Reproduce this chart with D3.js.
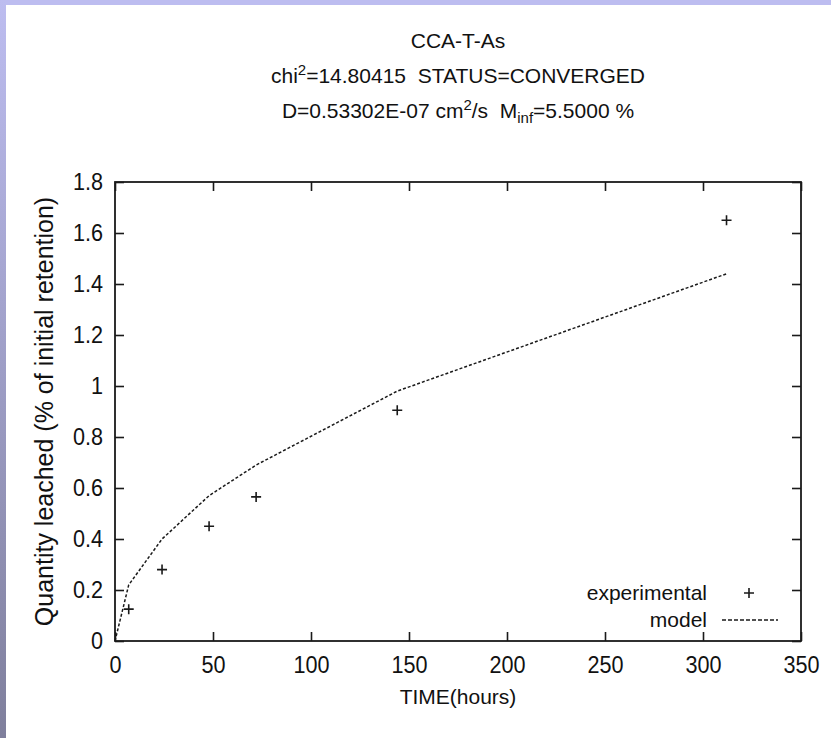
<!DOCTYPE html>
<html>
<head>
<meta charset="utf-8">
<script src="https://cdn.jsdelivr.net/npm/d3@7"></script>
<style>
  html, body { margin: 0; padding: 0; background: #fff; }
  text { font-family: "Liberation Sans", Arial, sans-serif; fill: #111; }
</style>
</head>
<body>
<svg id="chart"></svg>
<script>
// experimental leaching data (hours, % of initial retention)
const expTime = [7, 24, 48, 72, 144, 312];
const expValue = [0.125, 0.28, 0.45, 0.565, 0.905, 1.65];

// fitted diffusion model, evaluated at the same times
const modelTime = [0, 7, 24, 48, 72, 144, 312];
const modelValue = [0, 0.22, 0.40, 0.57, 0.69, 0.98, 1.44];

const xTicks = [0, 50, 100, 150, 200, 250, 300, 350];
const yTicks = [0, 0.2, 0.4, 0.6, 0.8, 1, 1.2, 1.4, 1.6, 1.8];

const width = 831;
const height = 738;
const margin = { top: 182, right: 30, bottom: 97, left: 115 };
const ink = '#1a1a1a';

const svg = d3.select('#chart')
  .attr('width', width)
  .attr('height', height);

// slide-style border bands
const defs = svg.append('defs');
const grad = defs.append('linearGradient')
  .attr('id', 'band')
  .attr('x1', 0).attr('y1', 0).attr('x2', 0).attr('y2', 1);
grad.append('stop').attr('offset', '0%').attr('stop-color', '#bdbdf0');
grad.append('stop').attr('offset', '100%').attr('stop-color', '#7f7f9c');

svg.append('rect').attr('width', width).attr('height', height).attr('fill', '#fff');
svg.append('rect').attr('x', 0).attr('y', 0).attr('width', width).attr('height', 5).attr('fill', '#bdbdf0');
svg.append('rect').attr('x', 0).attr('y', 0).attr('width', 6).attr('height', height).attr('fill', 'url(#band)');

const x = d3.scaleLinear()
  .domain([0, 350])
  .range([margin.left, width - margin.right]);

const y = d3.scaleLinear()
  .domain([0, 1.8])
  .range([height - margin.bottom, margin.top]);

const g = svg.append('g');

// titles
const cx = (x.range()[0] + x.range()[1]) / 2;
g.append('text')
  .attr('x', cx).attr('y', 48)
  .attr('text-anchor', 'middle')
  .style('font-size', '21px')
  .text('CCA-T-As');

const t2 = g.append('text')
  .attr('x', cx).attr('y', 83)
  .attr('text-anchor', 'middle')
  .style('font-size', '21px');
t2.append('tspan').text('chi');
t2.append('tspan').attr('dy', -8).style('font-size', '15px').text('2');
t2.append('tspan').attr('dy', 8).text('=14.80415\u00a0\u00a0STATUS=CONVERGED');

const t3 = g.append('text')
  .attr('x', cx).attr('y', 118)
  .attr('text-anchor', 'middle')
  .style('font-size', '21px');
t3.append('tspan').text('D=0.53302E-07 cm');
t3.append('tspan').attr('dy', -8).style('font-size', '15px').text('2');
t3.append('tspan').attr('dy', 8).text('/s\u00a0\u00a0M');
t3.append('tspan').attr('dy', 5).style('font-size', '15px').text('inf');
t3.append('tspan').attr('dy', -5).text('=5.5000 %');

// axes with inward ticks on all four sides
const tickLen = 9;
const xPad = 15;
const yPad = 12;

const xAxis = g.append('g')
  .attr('transform', `translate(0,${y(0)})`)
  .call(d3.axisBottom(x).tickValues(xTicks).tickSizeInner(-tickLen).tickSizeOuter(0).tickPadding(xPad));

const xTop = g.append('g')
  .attr('transform', `translate(0,${y(1.8)})`)
  .call(d3.axisTop(x).tickValues(xTicks).tickSizeInner(-tickLen).tickSizeOuter(0).tickFormat(''));

const yAxis = g.append('g')
  .attr('transform', `translate(${x(0)},0)`)
  .call(d3.axisLeft(y).tickValues(yTicks).tickSizeInner(-tickLen).tickSizeOuter(0).tickPadding(yPad).tickFormat(d3.format('')));

const yRight = g.append('g')
  .attr('transform', `translate(${x(350)},0)`)
  .call(d3.axisRight(y).tickValues(yTicks).tickSizeInner(-tickLen).tickSizeOuter(0).tickFormat(''));

[xAxis, xTop, yAxis, yRight].forEach(a => {
  a.select('.domain').remove();
  a.selectAll('.tick line').attr('stroke', ink).attr('stroke-width', 1.6);
  a.selectAll('.tick text')
    .attr('fill', ink)
    .style('font-family', '"Liberation Sans", Arial, sans-serif')
    .style('font-size', '24px');
});

// the tick numbers in the original are a little narrow
xAxis.selectAll('.tick text').attr('transform', 'scale(0.9,1)');
yAxis.selectAll('.tick text')
  .attr('transform', `translate(${-yPad},0) scale(0.9,1) translate(${yPad},0)`);

// frame
g.append('rect')
  .attr('x', x(0)).attr('y', y(1.8))
  .attr('width', x(350) - x(0))
  .attr('height', y(0) - y(1.8))
  .attr('fill', 'none')
  .attr('stroke', ink)
  .attr('stroke-width', 1.8);

// axis labels
g.append('text')
  .attr('x', cx).attr('y', 704)
  .attr('text-anchor', 'middle')
  .style('font-size', '21px')
  .text('TIME(hours)');

g.append('text')
  .attr('transform', `translate(53,${(y(0) + y(1.8)) / 2}) rotate(-90)`)
  .attr('text-anchor', 'middle')
  .style('font-size', '25px')
  .text('Quantity leached (% of initial retention)');

// model line
const line = d3.line()
  .x((d, i) => x(modelTime[i]))
  .y(d => y(d));

g.append('path')
  .datum(modelValue)
  .attr('d', line)
  .attr('fill', 'none')
  .attr('stroke', ink)
  .attr('stroke-width', 1.5)
  .attr('stroke-dasharray', '3,2');

// experimental points
const plus = 'M-5,0H5M0,-5V5';
g.append('g')
  .selectAll('path')
  .data(expValue)
  .join('path')
  .attr('transform', (d, i) => `translate(${x(expTime[i])},${y(d)})`)
  .attr('d', plus)
  .attr('stroke', ink)
  .attr('stroke-width', 1.6);

// legend
const legend = g.append('g');
legend.append('text')
  .attr('x', 707).attr('y', 600)
  .attr('text-anchor', 'end')
  .style('font-size', '21px')
  .text('experimental');
legend.append('path')
  .attr('transform', 'translate(749,593)')
  .attr('d', plus)
  .attr('stroke', ink)
  .attr('stroke-width', 1.6);
legend.append('text')
  .attr('x', 707).attr('y', 627)
  .attr('text-anchor', 'end')
  .style('font-size', '21px')
  .text('model');
legend.append('line')
  .attr('x1', 722).attr('x2', 778)
  .attr('y1', 620).attr('y2', 620)
  .attr('stroke', ink)
  .attr('stroke-width', 1.5)
  .attr('stroke-dasharray', '4,2');
</script>
</body>
</html>
